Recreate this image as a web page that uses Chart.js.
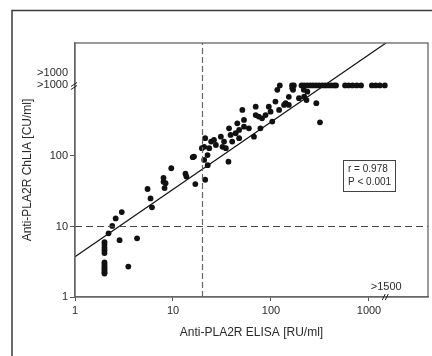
<!DOCTYPE html>
<html>
<head>
<meta charset="utf-8">
<script src="https://cdn.jsdelivr.net/npm/chart.js@4.4.0/dist/chart.umd.min.js"></script>
<style>
  html, body { margin: 0; padding: 0; background: #fff; }
</style>
</head>
<body>
<canvas id="chart" width="432" height="356"></canvas>
<script>
// Anti-PLA2R ELISA (RU/ml) vs ChLIA (CU/ml)
const elisa = [
  2, 2, 2, 2, 2, 2, 2, 2, 2, 2, 2, 2,
  2.2, 2.4, 2.6, 3.0, 2.85, 3.5, 4.3, 5.5, 5.9, 6.1, 8.0, 8.0, 8.4, 8.2, 9.6,
  13.4, 13.7, 15.9, 16.4, 16.9, 19.7, 20.8, 21.3, 22.6,
  21.3, 20.8, 23.4, 22.5, 24.5, 26.2, 27.4, 30.8, 32, 33.2, 34.6, 37.3, 38.7, 40.2,
  43.6, 45.3, 47.3, 47.3, 51, 53, 53, 59.5, 67, 69.8, 69.8, 75, 78, 81, 88, 95, 99,
  103, 111, 116, 121, 136, 141, 152, 152, 165, 193, 216, 230, 36.8, 290, 316, 235, 218, 168,
  // capped at >1000
  123, 164, 171, 205, 218, 234, 251, 269, 289, 310, 333, 357, 383, 411, 441, 461,
  570, 620, 680, 750, 830, 1070, 1170, 1290, 1450
];
const chlia = [
  6.0, 5.5, 5.0, 4.6, 4.2, 3.1, 2.9, 2.7, 2.55, 2.4, 2.25, 2.15,
  8.0, 10.2, 13, 16, 6.4, 2.7, 6.8, 34, 25, 18.7, 49, 43, 41, 35, 67,
  56, 51, 96, 98, 40, 129, 88, 46, 74,
  179, 135, 129, 103, 160, 169, 143, 188, 135, 160, 129, 247, 199, 160,
  210, 290, 234, 179, 450, 324, 260, 247, 188, 500, 380, 362, 247, 342, 380, 500, 425,
  307, 590, 866, 450, 530, 560, 530, 690, 910, 660, 866, 620, 83, 560, 300, 815, 695, 866,
  1000, 1000, 1000, 1000, 1000, 1000, 1000, 1000, 1000, 1000, 1000, 1000, 1000, 1000, 1000, 1000,
  1000, 1000, 1000, 1000, 1000, 1000, 1000, 1000, 1000
];

// regression line end points
const regElisa = [1, 1489];
const regChlia = [3.73, 4000];

// cut-off values
const elisaCutoff = 20;
const chliaCutoff = 10;

const axisMin = 1;
const axisMax = 4000;
const xTicks = [1, 10, 100, 1000];
const xTickLabels = ['1', '10', '100', '1000'];
const yTicks = [1, 10, 100, 1000, 1500];
const yTickLabels = ['1', '10', '100', '>1000', '>1000'];
const xBreak = 1500;
const xBreakLabel = '>1500';
const yBreak = 1000;
const stats = ['r = 0.978', 'P < 0.001'];

const FONT = '"Liberation Sans", Arial, sans-serif';
const TXT = '#2a2a2a';

const points = elisa.map((v, i) => ({ x: v, y: chlia[i] }));

function breakMark(c, px, py, vertical) {
  c.beginPath();
  if (vertical) {
    // crossing the y axis
    c.moveTo(px - 4, py + 1); c.lineTo(px + 2, py - 3);
    c.moveTo(px - 4, py + 4); c.lineTo(px + 2, py);
  } else {
    c.moveTo(px - 4, py + 3); c.lineTo(px - 1, py - 3);
    c.moveTo(px - 1, py + 3); c.lineTo(px + 2, py - 3);
  }
  c.stroke();
}

const decor = {
  id: 'decor',
  beforeDraw(chart) {
    const c = chart.ctx;
    c.save();
    c.fillStyle = '#fff';
    c.fillRect(0, 0, chart.width, chart.height);
    c.strokeStyle = '#3a3a3a';
    c.lineWidth = 1.5;
    c.strokeRect(12, 10.5, 440, 400);
    c.restore();
  },
  afterDraw(chart) {
    const { ctx: c, chartArea: a, scales: { x, y } } = chart;
    c.save();
    c.strokeStyle = '#666';
    c.lineWidth = 1.3;
    c.strokeRect(a.left, a.top, a.right - a.left, a.bottom - a.top);

    c.strokeStyle = '#222';
    c.lineWidth = 1;
    breakMark(c, a.left, y.getPixelForValue(yBreak), true);
    breakMark(c, x.getPixelForValue(xBreak), a.bottom, false);

    c.fillStyle = TXT;
    c.font = '11px ' + FONT;
    c.textAlign = 'center';
    c.textBaseline = 'middle';
    c.fillText(xBreakLabel, x.getPixelForValue(xBreak), a.bottom - 10);

    // stats box
    const bx = 343, by = 160, bw = 52, bh = 31;
    c.fillStyle = '#fff';
    c.fillRect(bx, by, bw, bh);
    c.strokeStyle = '#444';
    c.lineWidth = 1;
    c.strokeRect(bx + 0.5, by + 0.5, bw, bh);
    c.fillStyle = TXT;
    c.font = '10px ' + FONT;
    c.textAlign = 'left';
    c.fillText(stats[0], bx + 5, by + 9);
    c.fillText(stats[1], bx + 5, by + 22);
    c.restore();
  }
};

new Chart(document.getElementById('chart'), {
  type: 'scatter',
  data: {
    datasets: [
      {
        data: [{ x: elisaCutoff, y: axisMin }, { x: elisaCutoff, y: axisMax }],
        showLine: true, borderColor: '#666', borderWidth: 1.2, borderDash: [6, 3], pointRadius: 0
      },
      {
        data: [{ x: axisMin, y: chliaCutoff }, { x: axisMax, y: chliaCutoff }],
        showLine: true, borderColor: '#444', borderWidth: 1.2, borderDash: [7, 4], pointRadius: 0
      },
      {
        data: regElisa.map((v, i) => ({ x: v, y: regChlia[i] })),
        showLine: true, borderColor: '#111', borderWidth: 1.2, pointRadius: 0
      },
      {
        data: points,
        backgroundColor: '#111', borderColor: '#111', borderWidth: 0, pointRadius: 2.9
      }
    ]
  },
  options: {
    responsive: false,
    animation: false,
    events: [],
    layout: { padding: { left: 0, top: 43, right: 3, bottom: 0 } },
    plugins: { legend: { display: false }, tooltip: { enabled: false } },
    scales: {
      x: {
        type: 'logarithmic', min: axisMin, max: axisMax,
        afterBuildTicks: s => { s.ticks = xTicks.map(v => ({ value: v })); },
        afterFit: s => { s.height = 59; },
        ticks: {
          callback: (v, i) => xTickLabels[i],
          color: TXT, padding: 3, maxRotation: 0, autoSkip: false,
          font: { family: FONT, size: 11 }
        },
        grid: { drawOnChartArea: false, tickLength: 4, color: '#555' },
        border: { color: '#666', width: 1.3 },
        title: {
          display: true, text: 'Anti-PLA2R ELISA [RU/ml]', color: TXT,
          font: { family: FONT, size: 12 }, padding: { bottom: 16 }
        }
      },
      y: {
        type: 'logarithmic', min: axisMin, max: axisMax,
        afterBuildTicks: s => { s.ticks = yTicks.map(v => ({ value: v })); },
        afterFit: s => { s.width = 75; },
        ticks: {
          callback: (v, i) => yTickLabels[i],
          color: TXT, padding: 2, autoSkip: false,
          font: { family: FONT, size: 11 }
        },
        grid: {
          drawOnChartArea: false, tickLength: 5,
          color: ctx => (ctx.tick && ctx.tick.value >= yBreak ? 'rgba(0,0,0,0)' : '#555')
        },
        border: { color: '#666', width: 1.3 },
        title: {
          display: true, text: 'Anti-PLA2R ChLIA [CU/ml]', color: TXT,
          font: { family: FONT, size: 12 }, padding: { top: 20 }
        }
      }
    }
  },
  plugins: [decor]
});
</script>
</body>
</html>
